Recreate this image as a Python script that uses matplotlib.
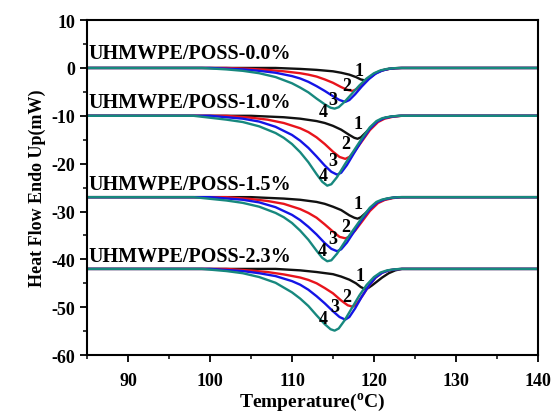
import matplotlib
matplotlib.use('Agg')
import matplotlib.pyplot as plt
from matplotlib.ticker import MultipleLocator

# sample labels and curve numbers
samples = ['UHMWPE/POSS-0.0%', 'UHMWPE/POSS-1.0%', 'UHMWPE/POSS-1.5%', 'UHMWPE/POSS-2.3%']
curve_nums = ['1', '2', '3', '4']

# ---- UHMWPE/POSS-0.0% ----
t_0_1 = [85, 108, 111, 113, 115, 116, 117, 117.8, 118.4, 118.9, 119.3, 119.8, 120.4, 121.0, 121.8, 122.6, 123.4, 140]
hf_0_1 = [0, 0, -0.2, -0.4, -0.7, -1.0, -1.4, -1.9, -2.4, -2.6, -2.3, -1.6, -0.9, -0.5, -0.2, -0.05, 0, 0]
t_0_2 = [85, 102, 105, 107, 109, 111, 112, 113, 114, 115, 116, 116.8, 117.4, 117.9, 118.6, 119.4, 120.2, 121.0, 121.8, 122.6, 123.4, 140]
hf_0_2 = [0, 0, -0.2, -0.4, -0.7, -1.1, -1.4, -1.8, -2.4, -3.1, -4.0, -4.6, -4.8, -4.4, -3.4, -2.1, -1.1, -0.5, -0.2, -0.05, 0, 0]
t_0_3 = [85, 100, 104, 106, 108, 110, 111, 112, 113, 114, 115, 115.8, 116.5, 117.0, 117.7, 118.5, 119.4, 120.2, 121.0, 121.8, 122.6, 123.4, 140]
hf_0_3 = [0, 0, -0.3, -0.6, -1.0, -1.7, -2.2, -2.9, -3.8, -4.8, -5.9, -6.7, -7.1, -6.7, -5.5, -3.9, -2.3, -1.2, -0.55, -0.2, -0.05, 0, 0]
t_0_4 = [85, 99, 102, 104, 106, 108, 110, 111, 112, 113, 114, 114.7, 115.2, 115.7, 116.4, 117.3, 118.2, 119.1, 120.0, 120.8, 121.6, 122.4, 123.2, 140]
hf_0_4 = [0, 0, -0.3, -0.6, -1.1, -1.9, -3.2, -4.1, -5.1, -6.4, -7.6, -8.3, -8.5, -8.2, -7.1, -5.4, -3.7, -2.2, -1.1, -0.5, -0.2, -0.05, 0, 0]

# ---- UHMWPE/POSS-1.0% ----
t_1_1 = [85, 105, 109, 111, 113, 114, 115, 116, 117, 117.6, 118, 118.4, 119, 119.8, 120.6, 121.4, 122.4, 123.4, 140]
hf_1_1 = [-10, -10, -10.3, -10.6, -11.1, -11.5, -12.1, -12.9, -14.0, -14.6, -14.8, -14.5, -13.5, -12.1, -11.0, -10.4, -10.1, -10, -10]
t_1_2 = [85, 102, 105, 107, 109, 111, 112, 113, 114, 115, 115.8, 116.5, 117, 117.7, 118.5, 119.5, 120.5, 121.3, 122.3, 123.3, 140]
hf_1_2 = [-10, -10, -10.4, -10.8, -11.5, -12.6, -13.4, -14.5, -15.9, -17.5, -18.6, -19.0, -18.6, -17.3, -15.4, -13.0, -11.3, -10.6, -10.2, -10, -10]
t_1_3 = [85, 100, 104, 106, 108, 110, 111, 112, 113, 114, 114.8, 115.5, 116, 116.7, 117.5, 118.5, 119.5, 120.4, 121.2, 122.2, 123.2, 140]
hf_1_3 = [-10, -10, -10.6, -11.2, -12.3, -14.0, -15.2, -16.7, -18.5, -20.4, -21.7, -22.3, -21.9, -20.3, -18.0, -15.2, -12.7, -11.2, -10.5, -10.15, -10, -10]
t_1_4 = [85, 98, 102, 104, 106, 108, 109, 110, 111, 112, 113, 113.7, 114.3, 114.8, 115.5, 116.5, 117.5, 118.5, 119.5, 120.3, 121, 122, 123, 140]
hf_1_4 = [-10, -10, -10.8, -11.3, -12.2, -13.6, -14.6, -15.9, -17.6, -19.7, -22.2, -23.8, -24.6, -24.3, -22.8, -20.0, -17.4, -14.8, -12.4, -11.1, -10.5, -10.15, -10, -10]

# ---- UHMWPE/POSS-1.5% ----
t_2_1 = [85, 105, 109, 111, 113, 114, 115, 116, 117, 117.6, 118, 118.4, 119, 119.8, 120.6, 121.4, 122.4, 123.4, 140]
hf_2_1 = [-27, -27, -27.3, -27.55, -28.0, -28.4, -29.0, -29.7, -30.8, -31.3, -31.5, -31.2, -30.3, -29.0, -27.95, -27.4, -27.1, -27, -27]
t_2_2 = [85, 102, 105, 107, 109, 111, 112, 113, 114, 115, 115.8, 116.5, 117, 117.7, 118.5, 119.5, 120.5, 121.3, 122.3, 123.3, 140]
hf_2_2 = [-27, -27, -27.4, -27.8, -28.4, -29.5, -30.3, -31.3, -32.7, -34.2, -35.3, -35.6, -35.3, -34.0, -32.2, -29.9, -28.25, -27.6, -27.2, -27, -27]
t_2_3 = [85, 100, 104, 106, 108, 110, 111, 112, 113, 114, 114.8, 115.5, 116, 116.7, 117.5, 118.5, 119.5, 120.4, 121.2, 122.2, 123.2, 140]
hf_2_3 = [-27, -27, -27.55, -28.1, -29.1, -30.7, -31.8, -33.2, -34.8, -36.6, -37.8, -38.3, -37.9, -36.5, -34.4, -31.8, -29.5, -28.1, -27.5, -27.15, -27, -27]
t_2_4 = [85, 98, 102, 104, 106, 108, 109, 110, 111, 112, 113, 113.7, 114.3, 114.8, 115.5, 116.5, 117.5, 118.5, 119.5, 120.3, 121, 122, 123, 140]
hf_2_4 = [-27, -27, -27.7, -28.2, -29.0, -30.3, -31.2, -32.4, -34.0, -35.9, -38.2, -39.7, -40.4, -40.2, -38.8, -36.2, -33.8, -31.4, -29.2, -28.0, -27.5, -27.15, -27, -27]

# ---- UHMWPE/POSS-2.3% ----
t_3_1 = [85, 108, 111, 113, 115, 116, 117, 117.8, 118.4, 118.9, 119.3, 119.8, 120.4, 121.0, 121.8, 122.6, 123.4, 140]
hf_3_1 = [-42, -42, -42.3, -42.65, -43.1, -43.6, -44.25, -45.0, -45.8, -46.2, -46.0, -45.4, -44.6, -43.8, -42.9, -42.3, -42, -42]
t_3_2 = [85, 102, 105, 107, 109, 111, 112, 113, 114, 115, 116, 116.8, 117.4, 117.9, 118.6, 119.4, 120.2, 121.0, 121.8, 122.6, 123.4, 140]
hf_3_2 = [-42, -42, -42.35, -42.65, -43.15, -43.8, -44.3, -45.0, -46.0, -47.1, -48.6, -49.6, -49.9, -49.3, -47.6, -45.5, -43.8, -42.8, -42.3, -42.1, -42, -42]
t_3_3 = [85, 100, 104, 106, 108, 110, 111, 112, 113, 114, 115, 115.8, 116.5, 117.0, 117.7, 118.5, 119.4, 120.2, 121.0, 121.8, 122.6, 123.4, 140]
hf_3_3 = [-42, -42, -42.45, -42.9, -43.5, -44.55, -45.3, -46.35, -47.7, -49.2, -50.85, -52.05, -52.6, -52.05, -50.25, -47.85, -45.45, -43.8, -42.8, -42.3, -42.1, -42, -42]
t_3_4 = [85, 99, 102, 104, 106, 108, 110, 111, 112, 113, 114, 114.7, 115.2, 115.7, 116.4, 117.3, 118.2, 119.1, 120.0, 120.8, 121.6, 122.4, 123.2, 140]
hf_3_4 = [-42, -42, -42.45, -42.9, -43.7, -44.9, -46.9, -48.2, -49.75, -51.7, -53.55, -54.6, -54.9, -54.45, -52.8, -50.2, -47.6, -45.35, -43.7, -42.75, -42.3, -42.1, -42, -42]

# label anchor points (text baseline of sample names, centres of curve numbers)
sample_label_y = [2.0, -8.1, -25.3, -40.4]
num_x = [[118.2, 116.7, 115.0, 113.8],
         [118.0, 116.5, 115.0, 113.8],
         [118.0, 116.5, 115.0, 113.7],
         [118.3, 116.7, 115.2, 113.8]]
num_y = [[-0.6, -3.7, -6.5, -9.2],
         [-11.7, -15.8, -19.4, -22.5],
         [-28.3, -33.1, -35.6, -38.1],
         [-43.3, -47.7, -49.8, -52.3]]

curves = [
    [(t_0_1, hf_0_1), (t_0_2, hf_0_2), (t_0_3, hf_0_3), (t_0_4, hf_0_4)],
    [(t_1_1, hf_1_1), (t_1_2, hf_1_2), (t_1_3, hf_1_3), (t_1_4, hf_1_4)],
    [(t_2_1, hf_2_1), (t_2_2, hf_2_2), (t_2_3, hf_2_3), (t_2_4, hf_2_4)],
    [(t_3_1, hf_3_1), (t_3_2, hf_3_2), (t_3_3, hf_3_3), (t_3_4, hf_3_4)],
]
colors = ['#111111', '#e8141c', '#1414e6', '#17887e']

plt.rcParams['font.family'] = ['Liberation Serif', 'DejaVu Serif']
plt.rcParams['font.weight'] = 'bold'
plt.rcParams['axes.unicode_minus'] = False
plt.rcParams['mathtext.fontset'] = 'custom'
plt.rcParams['mathtext.bf'] = 'Liberation Serif:bold'
plt.rcParams['mathtext.rm'] = 'Liberation Serif:bold'

fig = plt.figure(figsize=(5.56, 4.14), dpi=100)
ax = fig.add_axes([0.1565, 0.140, 0.811, 0.809])

for g in range(4):
    for k in range(4):
        t, hf = curves[g][k]
        ax.plot(t, hf, color=colors[k], lw=1.7, solid_joinstyle='round')
    ax.text(85.2, sample_label_y[g], samples[g], fontsize=14.5, fontweight='bold',
            ha='left', va='baseline')
    for k in range(4):
        ax.text(num_x[g][k], num_y[g][k], curve_nums[k], fontsize=13,
                fontweight='bold', ha='center', va='center')

ax.set_xlim(85, 140)
ax.set_ylim(-60, 10)
ax.xaxis.set_major_locator(MultipleLocator(10))
ax.xaxis.set_minor_locator(MultipleLocator(5))
ax.yaxis.set_major_locator(MultipleLocator(10))
ax.yaxis.set_minor_locator(MultipleLocator(5))
ax.set_xticks([90, 100, 110, 120, 130, 140])
ax.tick_params(which='major', direction='out', length=5, width=1.3, labelsize=13)
ax.tick_params(axis='x', which='major', pad=7)
ax.tick_params(which='minor', direction='out', length=3, width=1.1)
for lab in ax.get_xticklabels() + ax.get_yticklabels():
    lab.set_fontweight('bold')
for sp in ax.spines.values():
    sp.set_linewidth(1.5)

ax.set_xlabel(r'Temperature($^{\mathrm{o}}$C)', fontsize=14, fontweight='bold', labelpad=1)
ax.set_ylabel('Heat Flow Endo Up(mW)', fontsize=13, fontweight='bold', labelpad=4)

plt.savefig('out.png', dpi=100)
